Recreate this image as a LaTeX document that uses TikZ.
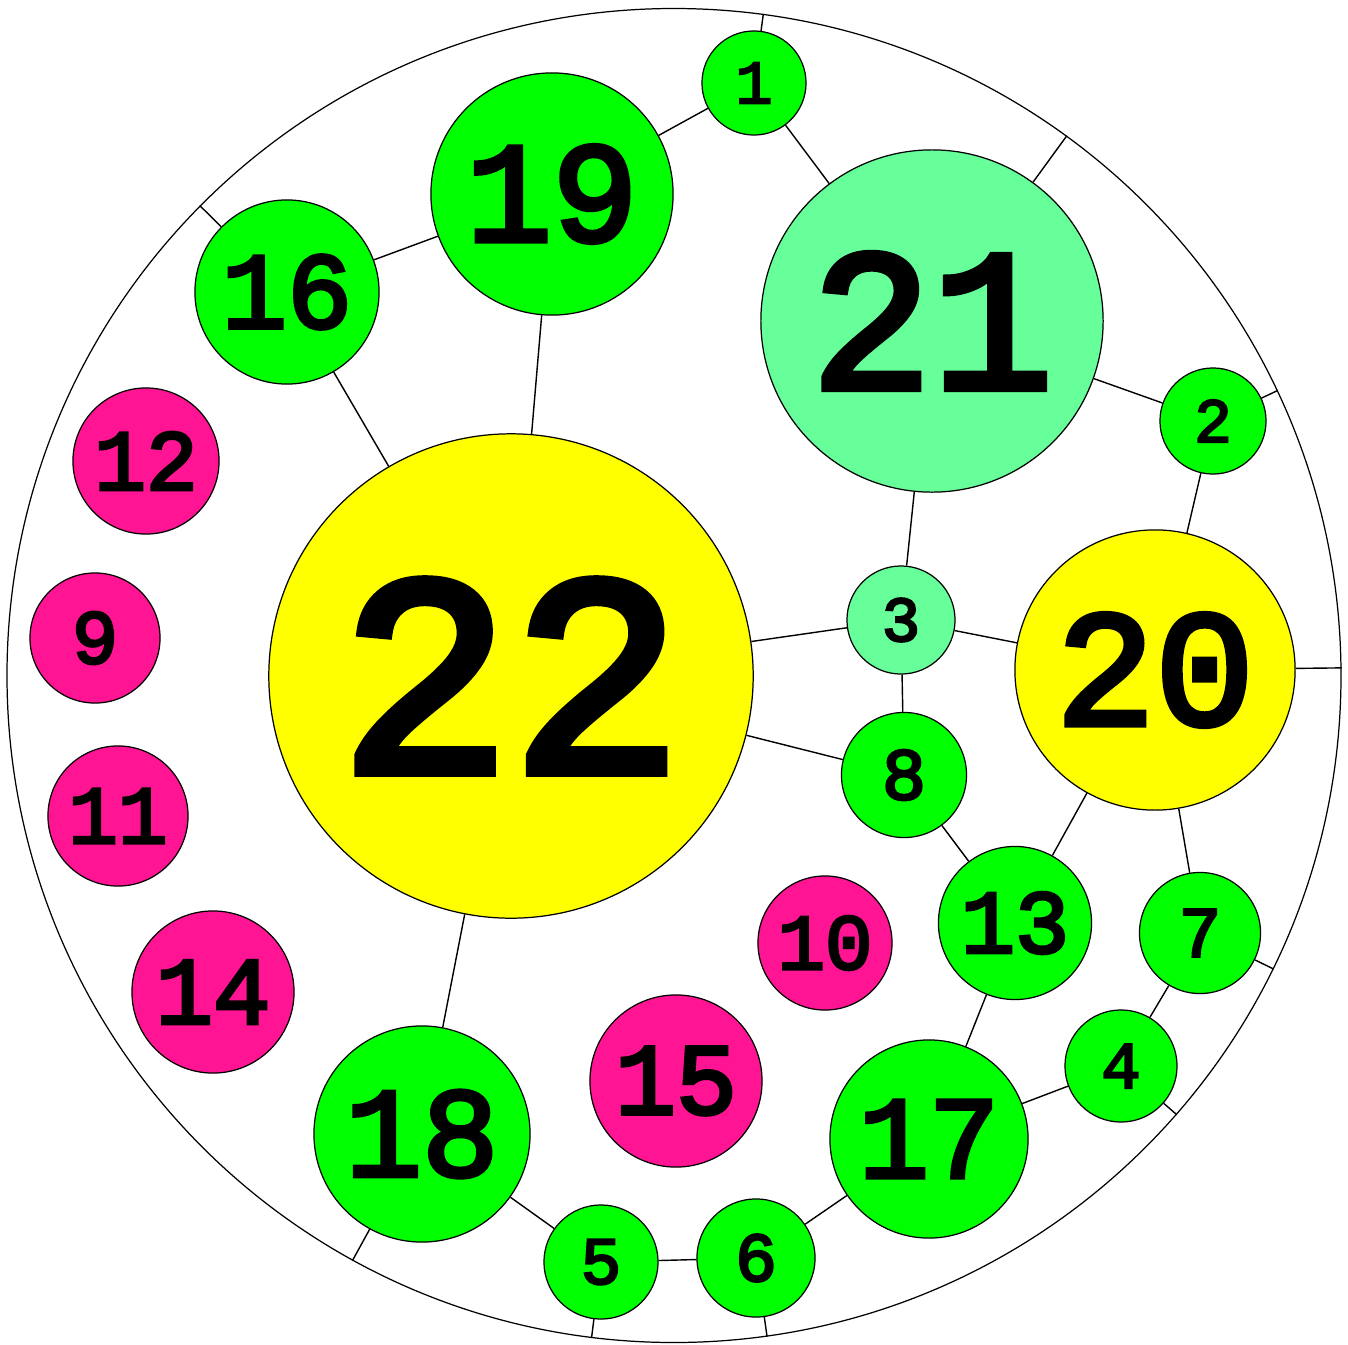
\documentclass[tikz,border=0pt]{standalone}
\usepackage{fontspec}
\usepackage{tikz}
\usetikzlibrary{calc, backgrounds}
\newfontfamily\numfont{Liberation Mono}[FakeBold=3.6]
\definecolor{ballgreen}{RGB}{0, 255, 0}
\definecolor{ballmint}{RGB}{102, 255, 153}
\definecolor{ballyellow}{RGB}{255, 255, 0}
\definecolor{ballpink}{RGB}{255, 20, 147}

\begin{document}
\begin{tikzpicture}[
    x=0.01cm, y=-0.01cm,
    line width=0.35pt,
    ball/.code={%
        \pgfmathsetmacro\ballfs{0.336*#1}%
        \tikzset{
            circle,
            draw=black,
            inner sep=0pt,
            minimum size=#1*0.02cm,
            font=\numfont\fontsize{\ballfs pt}{\ballfs pt}\selectfont
        }%
    },
    plain/.style={fill=ballgreen},
    pale/.style={fill=ballmint},
    gold/.style={fill=ballyellow},
    lone/.style={fill=ballpink}
]
\useasboundingbox (0,0) rectangle (1348,1345);

% ==================== OUTER FACE ====================
\node (rim) [circle, draw=black, inner sep=0pt, minimum size=1334*0.01cm] at (674,675.5) {};

% ==================== DISCS ====================
\node (n22) [ball=242, gold] at (511,676) {22};
\node (n21) [ball=171, pale] at (932,321) {21};
\node (n20) [ball=140, gold] at (1155,670) {20};
\node (n19) [ball=121, plain] at (552,194) {19};
\node (n18) [ball=108, plain] at (422,1134) {18};
\node (n17) [ball=99, plain] at (929,1139) {17};
\node (n16) [ball=92, plain] at (287,292) {16};
\node (n15) [ball=86, lone] at (676,1081) {15};
\node (n14) [ball=81, lone] at (213,992) {14};
\node (n13) [ball=76.5, plain] at (1015,923) {13};
\node (n12) [ball=73, lone] at (146,461) {12};
\node (n11) [ball=70, lone] at (118,816) {11};
\node (n10) [ball=67, lone] at (825,943) {10};
\node (n9) [ball=65, lone] at (95,638) {9};
\node (n8) [ball=62.5, plain] at (904,775) {8};
\node (n7) [ball=60.5, plain] at (1200,933) {7};
\node (n6) [ball=59, plain] at (756,1258) {6};
\node (n5) [ball=57, plain] at (601,1262) {5};
\node (n4) [ball=56, plain] at (1121,1066) {4};
\node (n3) [ball=54, pale] at (901,620) {3};
\node (n2) [ball=53, plain] at (1213,421) {2};
\node (n1) [ball=52, plain] at (754,83) {1};

% ==================== CONTACTS ====================
\begin{scope}[on background layer]
    \foreach \a/\b in {1/19, 1/21, 16/19, 19/22, 16/22, 2/21, 3/21, 2/20, 3/22, 3/20,
                       3/8, 8/22, 8/13, 13/20, 7/20, 13/17, 4/7, 4/17, 6/17, 5/6, 5/18, 18/22}
        \draw (n\a) -- (n\b);
    % discs touching the outer face
    \foreach \a in {1, 2, 4, 5, 6, 7, 16, 18, 20, 21}
        \draw (n\a) -- (rim);
\end{scope}

\end{tikzpicture}
\end{document}
